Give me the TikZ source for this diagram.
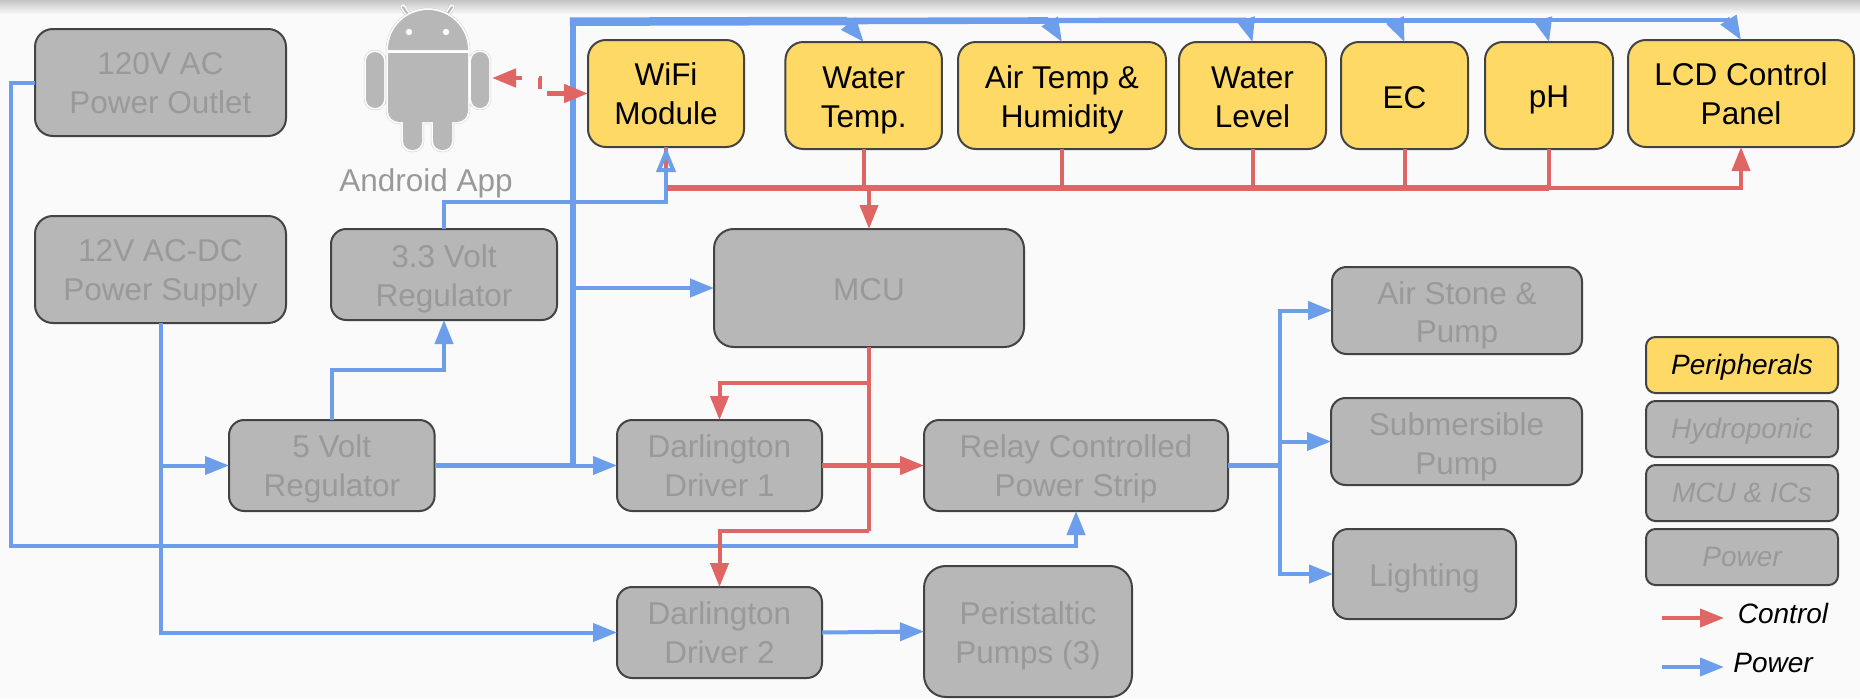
\documentclass[tikz,border=0pt]{standalone}
\usepackage{fontspec}
\setmainfont{Liberation Sans}
\usetikzlibrary{calc}
\usetikzlibrary{arrows.meta}

\definecolor{pagegray}{HTML}{FAFAFA}
\definecolor{shadegray}{HTML}{C4C4C4}
\definecolor{boxgray}{HTML}{B7B7B7}
\definecolor{boxline}{HTML}{434343}
\definecolor{textgray}{HTML}{999999}
\definecolor{halogray}{HTML}{D0D0D0}
\definecolor{periyellow}{HTML}{FFD966}
\definecolor{controlred}{HTML}{E06666}
\definecolor{powerblue}{HTML}{6D9EEB}

\tikzset{
  boxsize/.style 2 args={minimum width=#1pt,minimum height=#2pt,rounded corners={0.167*#2pt}},
  nudge/.code 2 args={\def\strutup{#1pt}\def\strutdown{#2pt}},
  textstruts/.style={align=center,nudge={69}{8},
    execute at begin node={\rule{0pt}{\strutup}},
    execute at end node={\rule[-\strutdown]{0pt}{\strutdown}}},
  block/.style={draw=boxline,line width=2pt,textstruts,inner sep=0pt,outer sep=0pt,font=\fontsize{31.5}{38.5}\selectfont},
  periph/.style={block,fill=periyellow,text=black},
  hydro/.style={block,fill=boxgray,text=textgray},
  legendtext/.style={font=\fontsize{28}{33}\selectfont\itshape,nudge={25}{7}},
  powerline/.style={draw=powerblue,line width=4pt},
  controlline/.style={draw=controlred,line width=4pt},
  opentip/.tip={Triangle[open,length=25pt,width=19pt]},
}

\newcommand{\robotshape}{
  (388,50) arc[start angle=180,end angle=0,radius=40pt] -- cycle
  (388,53) -- (468,53) {[rounded corners=11pt] -- (468,122) -- (388,122)} -- cycle
  [rounded corners=9pt] (366,52) rectangle (384,108)
  (471,52) rectangle (489,108)
}
\newcommand{\robotlegs}{
  [rounded corners=9pt] (403,112) rectangle (422,150)
  (433,112) rectangle (452,150)
}
\newcommand{\robotantenna}{(403,7) -- (411,19) (452,7) -- (444,19)}

\begin{document}
\begin{tikzpicture}[x=1pt,y=-1pt,>={Triangle[length=24pt,width=18pt]}]
  \useasboundingbox (0,0) rectangle (1860,699);
  \fill[pagegray] (0,0) rectangle (1860,699);
  \shade[top color=shadegray,bottom color=pagegray] (0,0) rectangle (1860,14);

  \node[hydro,boxsize={251}{107}] (outlet) at (160.5,82.5) {120V AC\\Power Outlet};
  \node[hydro,boxsize={251}{107}] (supply) at (160.5,269.5) {12V AC-DC\\Power Supply};
  \node[hydro,nudge={71}{8},boxsize={226}{91}] (reg33) at (444,274.5) {3.3 Volt\\Regulator};
  \node[hydro,boxsize={205.6}{91}] (reg5) at (331.8,465.5) {5 Volt\\Regulator};
  \node[hydro,nudge={32.5}{8},boxsize={310}{118}] (mcu) at (869,288) {MCU};
  \node[hydro,boxsize={205}{91}] (driver1) at (719.5,465.5) {Darlington\\Driver 1};
  \node[hydro,boxsize={205}{91}] (driver2) at (719.5,632.5) {Darlington\\Driver 2};
  \node[hydro,boxsize={304}{91}] (relay) at (1076,465.5) {Relay Controlled\\Power Strip};
  \node[hydro,nudge={71}{8},boxsize={208}{131}] (pumps) at (1028,631.5) {Peristaltic\\Pumps (3)};
  \node[hydro,nudge={72}{8},boxsize={250}{87}] (airstone) at (1457,310.5) {Air Stone \&\\Pump};
  \node[hydro,nudge={73}{8},boxsize={251}{87}] (submersible) at (1456.5,441.5) {Submersible\\Pump};
  \node[hydro,nudge={32}{8},boxsize={183}{90}] (lighting) at (1424.5,574) {Lighting};

  \node[periph,boxsize={156}{107}] (wifi) at (666,93.5) {WiFi\\Module};
  \node[periph,nudge={71}{8},boxsize={156.5}{107}] (watertemp) at (863.7,95.5) {Water\\Temp.};
  \node[periph,nudge={71}{8},boxsize={208}{107}] (airtemp) at (1062,95.5) {Air Temp \&\\Humidity};
  \node[periph,nudge={71}{8},boxsize={147}{107}] (waterlevel) at (1252.5,95.5) {Water\\Level};
  \node[periph,nudge={33.5}{8},boxsize={127}{107}] (ec) at (1404.5,95.5) {EC};
  \node[periph,nudge={32.5}{8},boxsize={128}{107}] (ph) at (1549,95.5) {pH};
  \node[periph,boxsize={226}{107}] (lcd) at (1741,93.5) {LCD Control\\Panel};

  \node[periph,legendtext,boxsize={192}{56}] (keyperiph) at (1742,365) {Peripherals};
  \node[hydro,legendtext,boxsize={192}{56}] (keyhydro) at (1742,429) {Hydroponic};
  \node[hydro,legendtext,boxsize={192}{56}] (keymcu) at (1742,493) {MCU \& ICs};
  \node[hydro,legendtext,boxsize={192}{56}] (keypower) at (1742,557) {Power};

  \node[textstruts,legendtext,inner sep=0pt] (keycontroltext) at (1783,614.5) {Control};
  \node[textstruts,legendtext,inner sep=0pt] (keypowertext) at (1773,663) {Power};
  \coordinate (keycontrola) at (1662,618);
  \coordinate (keycontrolb) at (1724,618);
  \coordinate (keypowera) at (1662,667);
  \coordinate (keypowerb) at (1724,667);

  % android figure
  \node[minimum width=128pt,minimum height=146pt,inner sep=0pt,outer sep=0pt] (android) at (428,78) {};
  \node[textstruts,nudge={30.5}{8},inner sep=0pt,text=textgray,font=\fontsize{31.5}{38.5}\selectfont] (androidlabel) at (426,180.5) {Android App};
  \draw[halogray,line width=6.5pt,line cap=round] \robotantenna;
  \draw[white,line width=5pt,line cap=round] \robotantenna;
  \draw[boxgray,line width=2pt,line cap=round] \robotantenna;
  \draw[halogray,line width=4.4pt] \robotshape;
  \draw[halogray,line width=4.4pt] \robotlegs;
  \draw[white,line width=3.4pt] \robotshape;
  \draw[white,line width=3.4pt] \robotlegs;
  \fill[boxgray] \robotshape;
  \fill[boxgray] \robotlegs;
  \fill[white] (409,32) circle(3.2pt);
  \fill[white] (446,32) circle(3.2pt);

  \coordinate (busleft) at (573,21.7);
  \coordinate (busa) at (847,21);
  \coordinate (busb) at (1048,20.5);
  \coordinate (busc) at (1246,20.3);
  \coordinate (busd) at (1394,20.3);
  \coordinate (buse) at (1543,20.3);
  \coordinate (busf) at (1727,20.3);
  \coordinate (tipa) at (846.8,22);
  \coordinate (tipb) at (1048.5,19.5);
  \coordinate (tipc) at (1246,19.6);
  \coordinate (tipd) at (1394.5,19);
  \coordinate (tipe) at (1543,19);
  \coordinate (tipf) at (1727.5,18);
  \coordinate (mcutap) at (573,288);
  \coordinate (driver1tap) at (573,465.5);
  \coordinate (reg5bend) at (444,370);
  \coordinate (wifibend) at (666,202);
  \coordinate (outletbend) at (11,546);
  \coordinate (supplytap) at (160.5,465.5);
  \coordinate (relaytap) at (1280,465.5);
  \coordinate (redbusleft) at (667,188);
  \coordinate (redbuspeak) at (1549,188);
  \coordinate (mcutop) at (869,188);
  \coordinate (driver1turn) at (869,383);
  \coordinate (driver2turn) at (869,531);
  \coordinate (dashbend) at (540,85);

  % power
  \draw[powerline,line width=6.4pt] (driver1tap) -- (busleft);
  \draw[powerline,line width=8.5pt] (569.8,21.7) -- (busa);
  \draw[powerline,line width=6.6pt] (busa) -- (busb);
  \draw[powerline,line width=5.4pt] (busb) -- (busc);
  \draw[powerline,line width=4.8pt] (busc) -- (busd);
  \draw[powerline,line width=4.4pt] (busd) -- (buse);
  \draw[powerline] (buse) -- (busf);
  \draw[powerline,->] (tipa) -- (watertemp.north);
  \draw[powerline,->] (tipb) -- (airtemp.north);
  \draw[powerline,->] (tipc) -- (waterlevel.north);
  \draw[powerline,->] (tipd) -- (ec.north);
  \draw[powerline,->] (tipe) -- (ph.north);
  \draw[powerline,->] (tipf) -- (lcd.north);

  \draw[powerline,line width=5.4pt] (reg5.east) -- (driver1tap);
  \draw[powerline,->] (driver1tap) -- (driver1.west);
  \draw[powerline,line width=4.2pt,->] (mcutap) -- (mcu.west);
  \draw[powerline,->] (reg5.north) |- (reg5bend) -- (reg33.south);
  \draw[controlline] (wifi.south) -- (wifi.south |- redbusleft);
  \draw[powerline,-opentip] (reg33.north) |- (wifibend) -- (wifi.south);
  \draw[powerline,->] (outlet.west) -| (outletbend) -| (relay.south);
  \draw[powerline,->] (supply.south) |- (driver2.west);
  \draw[powerline,->] (supplytap) -- (reg5.west);
  \draw[powerline,->] (driver2.east) -- (pumps.west);
  \draw[powerline,line width=5pt] (relay.east) -- (relaytap);
  \draw[powerline,->] (relaytap) |- (airstone.west);
  \draw[powerline,->] (relaytap) |- (submersible.west);
  \draw[powerline,->] (relaytap) |- (lighting.west);

  % control
  \draw[controlline,line width=5.6pt] (redbusleft) -- (redbuspeak);
  \draw[controlline] (watertemp.south) -- (watertemp.south |- redbusleft);
  \draw[controlline] (airtemp.south) -- (airtemp.south |- redbusleft);
  \draw[controlline] (waterlevel.south) -- (waterlevel.south |- redbusleft);
  \draw[controlline] (ec.south) -- (ec.south |- redbusleft);
  \draw[controlline] (ph.south) -- (ph.south |- redbusleft);
  \draw[controlline,->] (redbuspeak) -| (lcd.south);
  \draw[controlline,->] (mcutop) -- (mcu.north);
  \draw[controlline] (mcu.south) -- (driver2turn);
  \draw[controlline,->] (driver1turn) -| (driver1.north);
  \draw[controlline,->] (driver2turn) -| (driver2.north);
  \draw[controlline,line width=4.4pt,->] (driver1.east) -- (relay.west);
  \draw[controlline,line width=4.6pt,<->,dash pattern=on 7pt off 17pt on 12pt off 11.5pt on 60pt] (android.east) -| (dashbend) |- (wifi.west);

  \draw[controlline,->] (keycontrola) -- (keycontrolb);
  \draw[powerline,->] (keypowera) -- (keypowerb);
\end{tikzpicture}
\end{document}
